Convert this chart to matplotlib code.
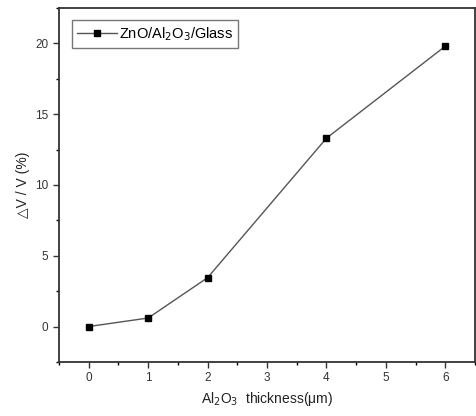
import numpy as np
import matplotlib.pyplot as plt
from matplotlib.ticker import MultipleLocator

plt.rcParams['font.family'] = ['Liberation Sans', 'DejaVu Sans']

# data
thickness = [0, 1, 2, 4, 6]
dv_v = [0.0, 0.6, 3.45, 13.3, 19.8]

fig = plt.figure(figsize=(4.76, 4.16), dpi=100)
ax = fig.add_axes([0.124, 0.130, 0.874, 0.851])

ax.plot(thickness, dv_v, color='#555555', lw=1.0, marker='s', ms=4.5,
        mfc='black', mec='black', label='ZnO/Al$_2$O$_3$/Glass')

ax.set_xlim(-0.5, 6.5)
ax.set_ylim(-2.5, 22.5)
ax.xaxis.set_major_locator(MultipleLocator(1))
ax.xaxis.set_minor_locator(MultipleLocator(0.5))
ax.yaxis.set_major_locator(MultipleLocator(5))
ax.yaxis.set_minor_locator(MultipleLocator(2.5))
ax.tick_params(which='major', direction='out', length=4, width=1, labelsize=8.5, colors='#333333')
ax.tick_params(which='minor', direction='out', length=2, width=1)
for s in ax.spines.values():
    s.set_linewidth(1.3)
    s.set_color('#333333')

ax.set_xlabel('Al$_2$O$_3$  thickness(\u03bcm)', fontsize=10, color='#222222')
ax.set_ylabel('\u25b3V / V (%)', fontsize=10, color='#222222')

leg = ax.legend(loc='upper left', fontsize=10.5, frameon=True, fancybox=False,
                edgecolor='#555555', handlelength=2.8, handletextpad=0.1,
                borderpad=0.35, borderaxespad=0,
                bbox_to_anchor=(0.03, 0.966))
leg.get_frame().set_linewidth(1.0)

fig.savefig('out.png', dpi=100)
